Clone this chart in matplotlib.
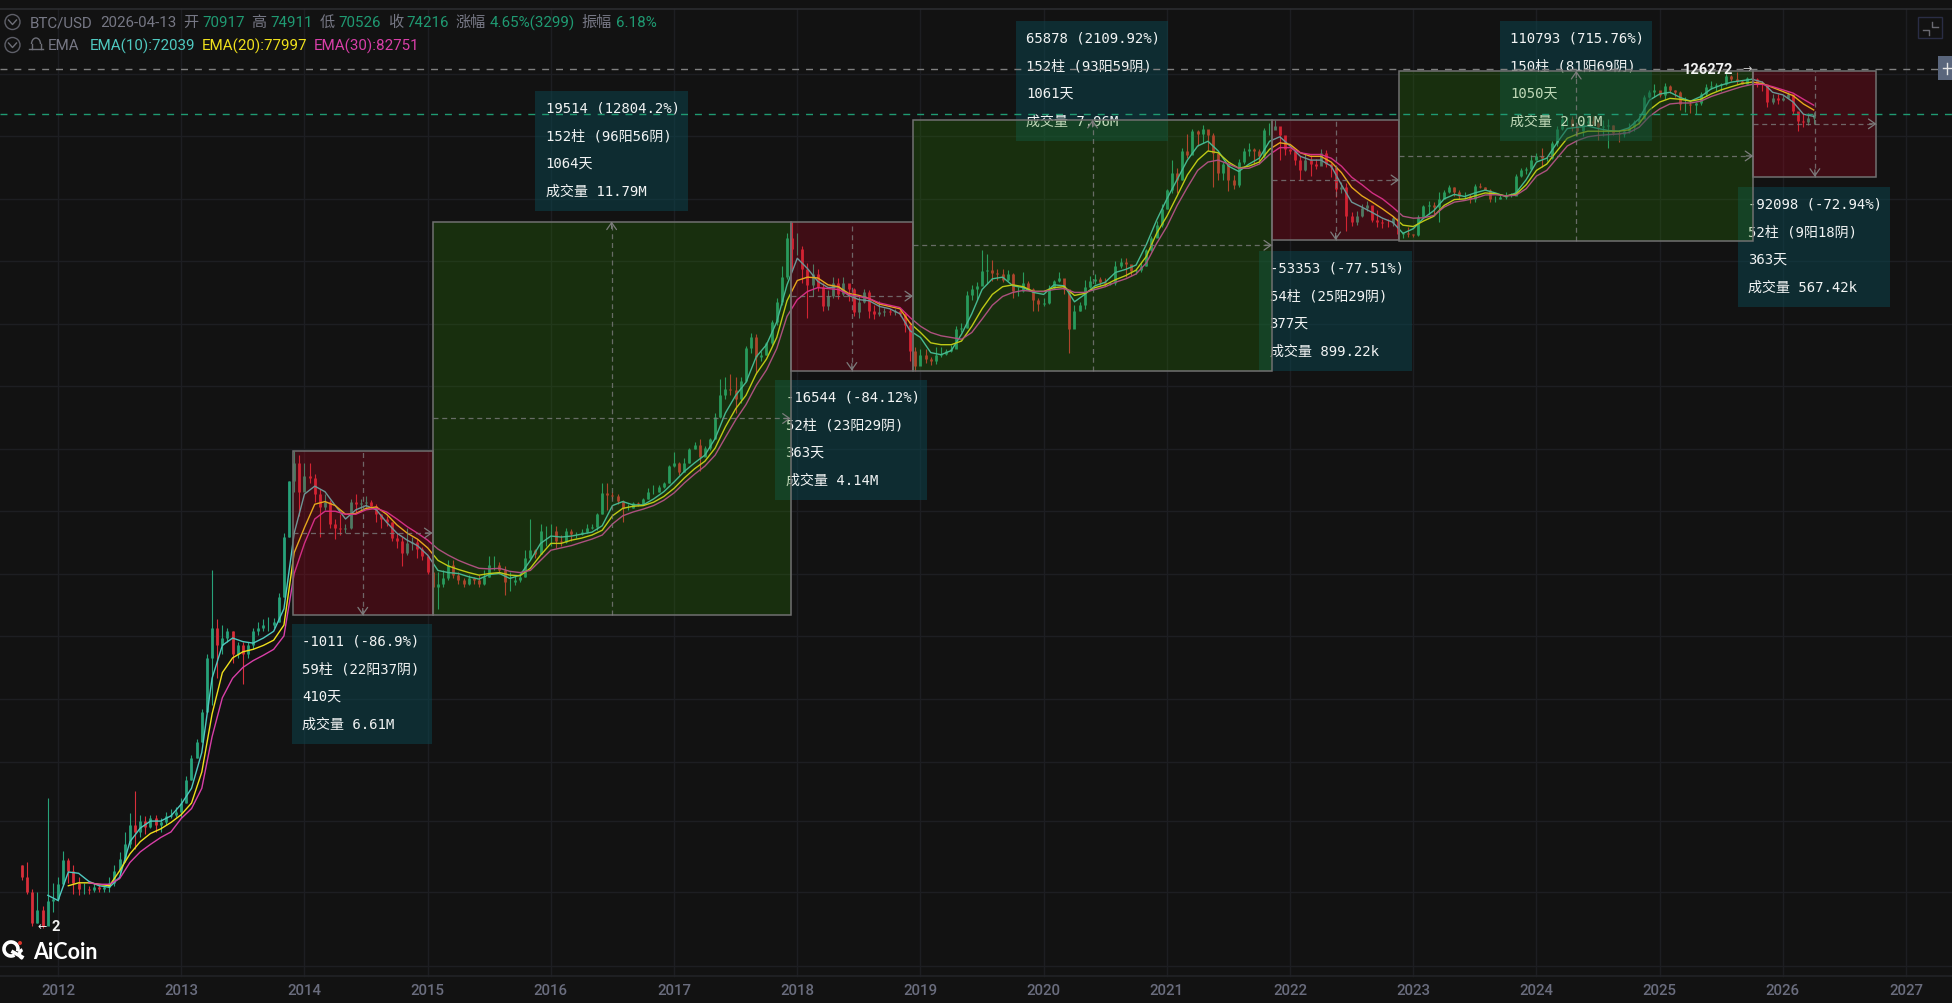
import numpy as np
import matplotlib
matplotlib.use("Agg")
import matplotlib.pyplot as plt
from matplotlib.patches import Rectangle, Circle, Arc
from matplotlib.transforms import Affine2D

# half-month candles, one row per year, 2011 row starts mid Sep
close_vals = [
    6.0, 5.0, 3.4, 4.0, 3.3, 4.5, 4.6,
    5.5, 7.4, 6.5, 5.6, 5.2, 5.2, 5.1, 5.3, 5.2, 5.3, 5.6, 6.5, 7.5, 9.0, 11.5, 10.5, 12, 11.2, 12.4, 11.5, 11.8, 12.8, 13, 13.5,
    15, 20, 26, 32, 46, 90, 130, 105, 115, 125, 95, 105, 95, 105, 125, 130, 135, 135, 140, 190, 400, 800, 1000, 700,
    850, 830, 680, 580, 620, 470, 450, 440, 450, 620, 600, 610, 620, 590, 530, 500, 480, 395, 380, 330, 370, 375, 345, 315,
    260, 215, 225, 240, 285, 250, 235, 225, 240, 235, 225, 245, 285, 285, 265, 230, 230, 235, 245, 310, 340, 325, 430, 430,
    430, 380, 375, 430, 415, 415, 425, 450, 455, 530, 690, 670, 660, 625, 570, 575, 610, 605, 640, 700, 700, 740, 780, 960,
    1000, 890, 1000, 1190, 1240, 1080, 1200, 1350, 1770, 2300, 2500, 2450, 2200, 2750, 4150, 4700, 3700, 3800, 4400, 5700, 7300, 9900, 16000, 14000,
    14000, 11000, 9000, 10300, 8800, 6900, 7800, 9200, 8000, 9200, 8600, 6400, 7300, 8200, 6500, 6300, 6400, 6500, 6400, 6500, 6300, 5500, 4000, 3300,
    3800, 3600, 3500, 3800, 3850, 4000, 4100, 5200, 5300, 7900, 8500, 8900, 10700, 10800, 10400, 10300, 9600, 10300, 8300, 8300, 9200, 8500, 7500, 7100,
    7200, 8700, 9400, 9800, 8600, 5200, 6500, 7000, 8800, 9400, 9700, 9300, 9100, 9200, 11300, 11900, 11700, 10700, 10800, 11400, 13800, 16000, 18800, 23000,
    29000, 36000, 33000, 47000, 45000, 60000, 58000, 62000, 57000, 46000, 36000, 40000, 33000, 31000, 41000, 47000, 48000, 47000, 44000, 61000, 61000, 64000, 57000, 48000,
    47000, 42000, 37000, 42000, 40000, 39000, 46000, 40000, 38500, 29500, 30000, 21000, 19500, 21000, 23300, 24000, 20000, 19500, 19400, 19300, 20500, 16800, 17000, 16800,
    16600, 20900, 23700, 24000, 23500, 26000, 28500, 30300, 28500, 27000, 27000, 26000, 30500, 30000, 29200, 26000, 26000, 26500, 27000, 27000, 34500, 37000, 37700, 42000,
    44000, 43000, 43000, 52000, 62000, 70000, 70000, 63000, 60000, 66000, 68000, 66000, 63000, 64000, 65000, 59000, 58000, 60000, 63000, 67000, 70000, 91000, 97000, 100000,
    94000, 105000, 100000, 97000, 84000, 84000, 83000, 85000, 95000, 103000, 105000, 106000, 107000, 118000, 114000, 112000, 108000, 116000, 114000, 108000, 107000, 86000, 90000, 88000,
    90000, 95000, 77000, 68000, 67000, 71000, 74216,
]
high_vals = [
    7.0, 7.2, 5.2, 5.0, 4.2, 16, 5.6,
    6.0, 8.3, 7.6, 7.0, 6.0, 5.6, 5.4, 5.6, 5.5, 5.4, 6.0, 7.0, 8.2, 10.5, 13.3, 17.5, 13, 12.8, 13, 13, 12.5, 13.5, 14, 14.2,
    16, 21, 27, 33, 48, 95, 266, 145, 135, 130, 125, 110, 110, 110, 130, 140, 145, 150, 148, 200, 420, 800, 1163, 1100,
    1000, 1000, 870, 720, 680, 630, 500, 530, 470, 640, 680, 640, 660, 630, 600, 530, 520, 480, 420, 400, 450, 400, 390, 355,
    320, 300, 260, 265, 300, 300, 260, 240, 250, 245, 250, 265, 315, 315, 295, 280, 260, 250, 255, 340, 500, 345, 470, 460,
    470, 460, 410, 450, 440, 425, 440, 470, 470, 540, 780, 780, 700, 680, 630, 600, 620, 620, 650, 730, 760, 760, 790, 975,
    1150, 1010, 1060, 1200, 1300, 1340, 1230, 1360, 1850, 2800, 2900, 2980, 2900, 2900, 4250, 4950, 4900, 4000, 4450, 5800, 7700, 11400, 17000, 19666,
    17000, 14500, 11800, 11700, 11000, 9200, 8400, 9900, 9800, 9900, 9000, 8700, 7800, 8500, 8400, 7000, 7400, 6800, 6700, 6700, 6600, 6400, 5700, 4200,
    4100, 4100, 3700, 4200, 4200, 4100, 4300, 5400, 5600, 8300, 9000, 9300, 13900, 13200, 12300, 11000, 10900, 10800, 10400, 8800, 10500, 9400, 8700, 7700,
    7700, 9000, 9600, 10500, 9100, 8200, 7000, 7300, 9500, 10000, 10300, 9900, 9800, 9300, 12100, 12500, 12500, 11200, 10900, 11800, 14000, 16500, 19800, 24300,
    29500, 42000, 38000, 49000, 58000, 61800, 61000, 64800, 59500, 59000, 43000, 41000, 36500, 35000, 42500, 49000, 52000, 48500, 48000, 62500, 66000, 69000, 59000, 52000,
    48000, 47000, 44000, 45500, 45000, 42500, 48200, 47500, 40500, 36000, 32000, 31800, 22000, 22500, 24500, 25200, 21700, 22800, 20400, 20400, 21000, 21400, 17300, 18300,
    16800, 21400, 24000, 25200, 25000, 28500, 29000, 31000, 30000, 29000, 28400, 27500, 31400, 31800, 30000, 29500, 26800, 27500, 28500, 28000, 35200, 38000, 38400, 44700,
    46000, 48500, 43800, 53000, 64000, 73800, 71500, 72800, 65500, 71900, 71800, 72000, 70000, 68500, 70000, 65000, 61000, 61500, 66500, 68500, 73600, 93500, 99800, 108000,
    97000, 109000, 106000, 100000, 99000, 92000, 88000, 86500, 97500, 107000, 112000, 109000, 108500, 123000, 120000, 124500, 113000, 117500, 126272, 116000, 111000, 96000, 94500, 94500,
    94000, 97500, 90000, 72000, 74000, 75000, 76000,
]
low_vals = [
    5.8, 4.9, 3.3, 3.4, 3.2, 3.8, 3.9,
    4.5, 5.4, 5.6, 4.9, 4.8, 4.9, 4.9, 5.0, 5.0, 5.0, 5.0, 5.4, 6.2, 7.2, 8.6, 8.5, 9.8, 10.2, 11, 10.5, 10.5, 11.5, 12.5, 12.6,
    12.5, 15, 20, 26, 32, 46, 50, 70, 95, 110, 85, 90, 65, 90, 100, 120, 125, 125, 130, 140, 190, 400, 700, 520,
    720, 780, 620, 400, 560, 450, 390, 410, 420, 440, 540, 560, 580, 570, 480, 450, 460, 380, 350, 280, 320, 340, 310, 300,
    255, 152, 165, 215, 235, 240, 225, 215, 220, 225, 215, 220, 245, 265, 255, 195, 205, 220, 230, 245, 300, 310, 325, 360,
    360, 350, 360, 370, 380, 395, 410, 420, 440, 435, 530, 560, 640, 600, 480, 560, 570, 590, 600, 640, 680, 700, 730, 780,
    950, 860, 890, 1000, 1180, 900, 1100, 1170, 1350, 1750, 2200, 2300, 1850, 2100, 2700, 3900, 3000, 3500, 3800, 4300, 5500, 7000, 9700, 11000,
    13000, 9200, 6000, 7800, 8300, 6500, 6600, 7700, 7600, 7800, 7400, 6100, 6000, 7200, 6000, 5900, 6100, 6100, 6200, 6200, 6100, 5000, 3500, 3122,
    3550, 3450, 3350, 3400, 3700, 3800, 3950, 4900, 5050, 5300, 7500, 7500, 9500, 9100, 9400, 9600, 9300, 9400, 7700, 7800, 8200, 8400, 6500, 6500,
    6900, 7100, 8500, 9300, 8000, 3900, 5900, 6500, 6700, 8700, 9100, 9000, 8900, 9000, 9000, 11100, 9900, 10000, 10300, 10600, 11300, 13700, 16200, 18300,
    23000, 28000, 28000, 33000, 43000, 50000, 50000, 52000, 47000, 30000, 33000, 33000, 28800, 29500, 30000, 40000, 44000, 40000, 40500, 43000, 57000, 62000, 42000, 45000,
    45500, 39500, 33000, 36500, 34500, 37500, 40000, 38500, 34000, 26700, 28000, 17600, 18700, 18800, 20800, 22500, 19500, 18500, 18200, 18500, 18700, 15646, 16000, 16300,
    16300, 16500, 22500, 21500, 21500, 19600, 26500, 28000, 27000, 26000, 25900, 24800, 25000, 29600, 28900, 25000, 25000, 26000, 26000, 26500, 27200, 34000, 35500, 37700,
    42000, 38500, 41500, 42500, 50000, 60800, 64500, 60500, 56500, 56500, 65000, 64500, 53500, 56500, 49000, 57000, 52500, 56000, 58900, 60000, 65500, 76000, 90500, 92000,
    91500, 89000, 96000, 91000, 78200, 76500, 75000, 74500, 83000, 93000, 101000, 98000, 98000, 106500, 112000, 108000, 107500, 107000, 108500, 103500, 99000, 80500, 83800, 84000,
    87000, 90000, 74500, 60000, 63000, 65000, 65500,
]
first_open = 7.0

# monthly EMA readings, the last point is the 2026-04 value from the header
ema10_vals = [
    4.8,
    4.5, 6.4, 6.3, 5.7, 5.4, 5.3, 6.0, 9.3, 11.0, 12, 12, 12.8,
    14.8, 18, 28, 70, 105, 115, 110, 108, 115, 125, 165, 420,
    680, 750, 700, 590, 500, 560, 590, 560, 480, 420, 385, 360,
    320, 265, 258, 255, 245, 238, 252, 255, 240, 250, 300, 370,
    405, 400, 405, 415, 425, 460, 590, 620, 595, 595, 640, 700,
    790, 900, 1000, 1100, 1350, 1850, 2300, 2700, 3700, 4300, 5700, 9000,
    12500, 11000, 9400, 8700, 8800, 7900, 7500, 7400, 6900, 6700, 6300, 5100,
    4700, 3900, 3800, 4000, 4900, 6300, 8500, 9700, 9900, 8900, 8700, 8200,
    8000, 9000, 8900, 7300, 8000, 8900, 9300, 10500, 10900, 11500, 14800, 20000,
    26000, 33000, 42000, 50000, 53000, 47000, 39000, 36500, 40000, 43000, 53000, 56000,
    50000, 44000, 42000, 42000, 39000, 31000, 25000, 23500, 22000, 20500, 19500, 17000,
    18000, 20500, 22500, 26000, 27500, 26800, 28000, 29000, 28000, 26800, 28000, 33000,
    41000, 43000, 52000, 62000, 63000, 64000, 62000, 60500, 60000, 62500, 70000, 88000,
    95000, 97000, 91000, 87000, 92000, 101000, 106000, 110000, 112000, 114000, 110000, 97000,
    94000, 86000, 74000, 72039,
]
ema20_vals = [
    5.4, 5.6, 5.6, 5.5, 5.4, 6.5, 8.0, 9.3, 10.3, 10.9, 11.8,
    13, 15, 22, 45, 75, 90, 97, 100, 105, 112, 135, 330,
    450, 600, 620, 590, 530, 535, 570, 580, 530, 465, 420, 390,
    350, 300, 280, 268, 258, 250, 255, 258, 250, 248, 272, 320,
    370, 370, 385, 395, 410, 435, 520, 570, 585, 590, 615, 660,
    730, 830, 930, 1020, 1200, 1560, 1950, 2300, 3000, 3600, 4700, 7400,
    9500, 9900, 9800, 9000, 8800, 8100, 7900, 7600, 7100, 6900, 6700, 5600,
    5000, 4400, 4300, 4300, 4500, 5400, 6700, 8000, 8800, 9000, 8800, 8300,
    8300, 8700, 8800, 7900, 8100, 8700, 9000, 9600, 10100, 10800, 12800, 17000,
    21000, 27000, 35000, 42000, 47000, 46000, 41000, 38000, 39000, 41000, 48000, 52000,
    51000, 46000, 44000, 44000, 41000, 36000, 30000, 27000, 25000, 23000, 21000, 18800,
    18500, 19800, 21000, 24000, 25800, 26000, 27000, 28000, 27700, 27000, 27500, 31000,
    37000, 40000, 47000, 55000, 58000, 60000, 60000, 60000, 60000, 61000, 66000, 78000,
    86000, 90000, 89000, 87000, 89000, 95000, 100000, 104000, 108000, 110000, 108000, 103000,
    98000, 93000, 84000, 77997,
]
ema30_vals = [
    5.6, 5.5, 5.5, 5.9, 7.2, 8.2, 9.0, 9.8, 10.5,
    12.4, 14, 18, 34, 55, 70, 80, 87, 93, 100, 118, 255,
    370, 500, 550, 550, 530, 530, 560, 570, 545, 500, 455, 420,
    385, 345, 320, 300, 285, 272, 270, 272, 262, 258, 265, 300,
    340, 350, 360, 375, 390, 410, 470, 520, 545, 565, 590, 630,
    690, 780, 870, 960, 1100, 1370, 1700, 2050, 2600, 3150, 4100, 6100,
    7500, 8300, 8700, 8600, 8500, 8000, 7800, 7600, 7200, 7000, 6800, 6000,
    5400, 5000, 4800, 4700, 4600, 5000, 5900, 7000, 7800, 8200, 8400, 8300,
    8300, 8500, 8600, 8200, 8200, 8500, 8800, 9300, 9700, 10300, 11800, 15000,
    18500, 24000, 30000, 37000, 41000, 42000, 40000, 38000, 38000, 40000, 45000, 49000,
    49000, 46000, 45000, 45000, 43000, 39000, 34000, 31000, 28000, 26000, 23500, 21000,
    20500, 20600, 21200, 23500, 25000, 25500, 26200, 27300, 27400, 27000, 27200, 29500,
    34500, 37000, 43000, 50000, 53500, 56000, 57000, 57500, 58000, 59000, 63000, 72000,
    79000, 84000, 85000, 85000, 87000, 92000, 96000, 100000, 104000, 107000, 107000, 104000,
    100000, 96000, 89000, 82751,
]

# measured ranges
range_start = [2013.907, 2015.04, 2017.947, 2018.94, 2021.854, 2022.886, 2025.76]
range_end = [2015.04, 2017.947, 2018.94, 2021.854, 2022.886, 2025.76, 2026.76]
range_high = [1163, 19666, 19666, 69000, 69000, 126272, 126272]
range_low = [152, 152, 3122, 3122, 15646, 15479, 34174]
range_text = [
    ["-1011 (-86.9%)", "59柱 (22阳37阴)", "410天", "成交量 6.61M"],
    ["19514 (12804.2%)", "152柱 (96阳56阴)", "1064天", "成交量 11.79M"],
    ["-16544 (-84.12%)", "52柱 (23阳29阴)", "363天", "成交量 4.14M"],
    ["65878 (2109.92%)", "152柱 (93阳59阴)", "1061天", "成交量 7.96M"],
    ["-53353 (-77.51%)", "54柱 (25阳29阴)", "377天", "成交量 899.22k"],
    ["110793 (715.76%)", "150柱 (81阳69阴)", "1050天", "成交量 2.01M"],
    ["-92098 (-72.94%)", "52柱 (9阳18阴)", "363天", "成交量 567.42k"],
]

year_ticks = list(range(2012, 2028))
grid_prices = [121600, 56500, 26000, 12080, 5550, 2580, 1186, 552, 254, 118, 54, 25, 12, 5, 2]
last_close = 74216
top_price = 126272

BG = "#121212"
GRID = "#1d1e22"
UP = "#27a27a"
DOWN = "#d82f3a"
CYAN = "#4fc9c0"
YELLOW = "#efe01c"
MAGENTA = "#d83fa8"
GREY_TXT = "#767784"
GREEN_TXT = "#1f9a72"
DASH = "#7c7c7c"
MONO = ["DejaVu Sans Mono", "Noto Sans CJK SC"]
SANS = ["Roboto", "Noto Sans CJK SC"]

fig = plt.figure(figsize=(19.52, 10.04), dpi=100, facecolor=BG)
ax = fig.add_axes([0, 0, 1, 1], facecolor=BG)
ax.set_yscale("log")
ax.set_xlim(2011.529, 2027.373)
ax.set_ylim(1.27, 306900)
ax.axis("off")

# screen pixels, origin top left, for the interface pieces
px = Affine2D().scale(1 / 1952, -1 / 1004).translate(0, 1) + ax.transAxes
xt = ax.get_xaxis_transform()
yt = ax.get_yaxis_transform()
plot_top = 1 - 10 / 1004
plot_bottom = 1 - 977 / 1004

# grid
for yr in year_ticks:
    ax.plot([yr, yr], [plot_bottom, plot_top], transform=xt, color=GRID, lw=1, zorder=1)
    ax.text(yr, 1 - 991 / 1004, str(yr), transform=xt, ha="center", va="center",
            color="#6a6d7e", fontsize=10.8, family=SANS, fontweight="medium")
for p in grid_prices:
    ax.plot([0, 1], [p, p], transform=yt, color=GRID, lw=1, zorder=1)
ax.plot([0, 1952], [10, 10], transform=px, color="#2b2c30", lw=1.2, zorder=1)
ax.plot([0, 1952], [977, 977], transform=px, color="#212226", lw=1.2, zorder=1)

# candles
close_arr = np.array(close_vals, dtype=float)
high_arr = np.array(high_vals, dtype=float)
low_arr = np.array(low_vals, dtype=float)
open_arr = np.r_[first_open, close_arr[:-1]]
candle_t = 2011.708 + np.arange(len(close_arr)) / 24
up = close_arr >= open_arr
colors = np.where(up, UP, DOWN)
ax.vlines(candle_t, low_arr, high_arr, colors=colors, lw=0.8, zorder=2)
ax.vlines(candle_t, np.minimum(open_arr, close_arr), np.maximum(open_arr, close_arr),
          colors=colors, lw=2.0, zorder=2)

# EMA lines
ema_t = 2011.917 + np.arange(len(ema10_vals)) / 12
ax.plot(ema_t, ema10_vals, color=CYAN, lw=1.0, zorder=3)
ax.plot(ema_t[-len(ema20_vals):], ema20_vals, color=YELLOW, lw=1.0, zorder=3)
ax.plot(ema_t[-len(ema30_vals):], ema30_vals, color=MAGENTA, lw=1.0, zorder=3)

# info panels go under the range overlays
panel_xy = [(292, 625), (535, 92), (775, 381), (1016, 22), (1259, 252), (1500, 22), (1738, 188)]
panel_w = [140, 153, 152, 152, 153, 152, 152]
for (x0, y0), w, lines in zip(panel_xy, panel_w, range_text):
    ax.add_patch(Rectangle((x0, y0), w, 120, transform=px, facecolor="#0b4750", alpha=0.5,
                           edgecolor="none", zorder=4))
    for k, line in enumerate(lines):
        ax.text(x0 + 10.5, y0 + 17 + k * 27.5, line, transform=px, color="#f2f4f4", fontsize=10.1,
                family=MONO, va="center", ha="left", zorder=4.5)

# range overlays
for i in range(len(range_start)):
    t0, t1 = range_start[i], range_end[i]
    lo, hi = range_low[i], range_high[i]
    rising = i % 2 == 1
    face = (45 / 255, 135 / 255, 5 / 255, 0.25) if rising else (200 / 255, 0, 30 / 255, 0.25)
    ax.add_patch(Rectangle((t0, lo), t1 - t0, hi - lo, facecolor=face, edgecolor="#707070",
                           lw=1.1, zorder=5))
    mid_t = (t0 + t1) / 2
    mid_p = np.sqrt(lo * hi)
    ax.plot([t0, t1], [mid_p, mid_p], color=DASH, lw=0.9, ls=(0, (4, 3)), alpha=0.8, zorder=6)
    ax.plot([mid_t, mid_t], [lo, hi], color=DASH, lw=0.9, ls=(0, (4, 3)), alpha=0.8, zorder=6)
    ax.annotate("", xy=(t1, mid_p), xytext=(-5, 0), textcoords="offset points",
                arrowprops=dict(arrowstyle="->,head_length=0.5,head_width=0.35", color=DASH, lw=0.9, shrinkA=0, shrinkB=0), zorder=6)
    end_p = hi if rising else lo
    ax.annotate("", xy=(mid_t, end_p), xytext=(0, -5 if rising else 5), textcoords="offset points",
                arrowprops=dict(arrowstyle="->,head_length=0.5,head_width=0.35", color=DASH, lw=0.9, shrinkA=0, shrinkB=0), zorder=6)

# price lines
ax.plot([0, 1], [top_price * 1.02, top_price * 1.02], transform=yt, color="#808080", lw=1,
        ls=(0, (5, 5)), zorder=6)
ax.plot([0, 1], [last_close, last_close], transform=yt, color="#1f9a72", lw=1,
        ls=(0, (5, 5)), zorder=6)

# high and low marks
ax.text(1683, 70, "126272", transform=px, color="#f2f2f2", fontsize=10.5, fontweight="bold",
        family=SANS, va="center", ha="left", zorder=8)
ax.text(1742, 69, "→", transform=px, color="#cccccc", fontsize=8, family="DejaVu Sans",
        va="center", ha="left", zorder=8)
ax.text(37, 927, "←", transform=px, color="#f2f2f2", fontsize=8, family="DejaVu Sans",
        va="center", ha="left", zorder=8)
ax.text(51, 927, "2", transform=px, color="#f2f2f2", fontsize=10.5, fontweight="bold",
        family=SANS, va="center", ha="left", zorder=8)

# header rows
row1 = [(30, "BTC/USD", GREY_TXT), (100, "2026-04-13", GREY_TXT), (183, "开", GREY_TXT), (202, "70917", GREEN_TXT),
        (251, "高", GREY_TXT), (270, "74911", GREEN_TXT), (320, "低", GREY_TXT), (338, "70526", GREEN_TXT),
        (388, "收", GREY_TXT), (406, "74216", GREEN_TXT), (456, "涨幅", GREY_TXT), (490, "4.65%(3299)", GREEN_TXT),
        (581, "振幅", GREY_TXT), (616, "6.18%", GREEN_TXT)]
for x0, s, c in row1:
    ax.text(x0, 23, s, transform=px, color=c, fontsize=10.9, family=SANS, va="center", ha="left", zorder=8)
row2 = [(48, "EMA", GREY_TXT), (90, "EMA(10):72039", CYAN), (202, "EMA(20):77997", YELLOW), (314, "EMA(30):82751", MAGENTA)]
for x0, s, c in row2:
    ax.text(x0, 46, s, transform=px, color=c, fontsize=10.9, family=SANS, va="center", ha="left", zorder=8)

# collapse icons and bell
for cy in (23, 46):
    ax.add_patch(Circle((12.5, cy), 7.5, transform=px, facecolor="none", edgecolor="#5e5f68", lw=1, zorder=8))
    ax.plot([8.5, 12.5, 16.5], [cy - 2, cy + 2.5, cy - 2], transform=px, color="#6e6f78", lw=1, zorder=8)
ax.add_patch(Arc((36, 45), 9, 12, theta1=180, theta2=360, transform=px, color="#6e6f78", lw=1, zorder=8))
ax.plot([29, 43], [50, 50], transform=px, color="#6e6f78", lw=1, zorder=8)
ax.plot([31.5, 31.5], [45, 50], transform=px, color="#6e6f78", lw=1, zorder=8)
ax.plot([40.5, 40.5], [45, 50], transform=px, color="#6e6f78", lw=1, zorder=8)

# right side buttons
ax.add_patch(Rectangle((1918, 18), 24, 21, transform=px, facecolor="none", edgecolor="#2a2d45", lw=1, zorder=8))
ax.plot([1932, 1932, 1938], [23, 28, 28], transform=px, color="#6a6a72", lw=1, zorder=8)
ax.plot([1923, 1929, 1929], [31, 31, 36], transform=px, color="#6a6a72", lw=1, zorder=8)
ax.add_patch(Rectangle((1938, 57), 14, 24, transform=px, facecolor="#5a667c", edgecolor="none", zorder=8))
ax.plot([1943, 1952], [69, 69], transform=px, color="#e6e6e6", lw=1, zorder=9)
ax.plot([1947, 1947], [64, 75], transform=px, color="#e6e6e6", lw=1, zorder=9)

# AiCoin mark
ax.add_patch(Arc((11, 950), 14, 14, theta1=60, theta2=20, transform=px, color="white", lw=2.6, zorder=8))
ax.plot([13, 22], [953, 958], transform=px, color="white", lw=2.6, zorder=8)
ax.add_patch(Arc((24, 955), 9, 9, theta1=110, theta2=250, transform=px, color="white", lw=2.4, zorder=8))
ax.add_patch(Circle((20, 944), 2, transform=px, facecolor="#d8352a", edgecolor="none", zorder=8))
ax.text(33, 953, "AiCoin", transform=px, color="white", fontsize=15.5, fontweight="bold",
        family=["Lato", "DejaVu Sans"], va="center", ha="left", zorder=8)

fig.savefig("out.png", dpi=100, facecolor=BG)
